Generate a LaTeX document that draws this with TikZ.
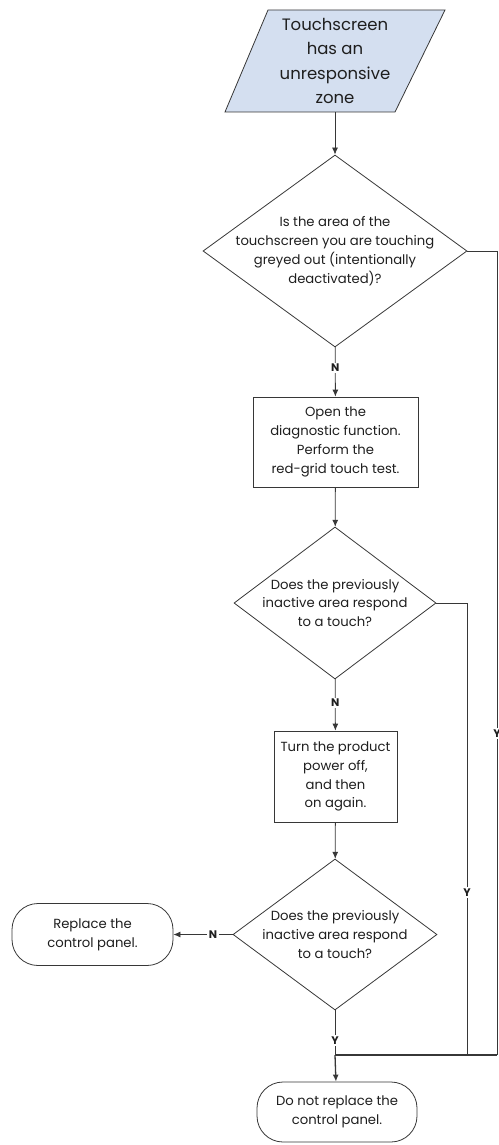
\documentclass[tikz,border=0pt]{standalone}
\usepackage{fontspec}
\setmainfont{Poppins}
\usepackage{xcolor}
\usetikzlibrary{arrows.meta,shapes.geometric,shapes.misc}
\definecolor{linec}{RGB}{55,55,55}
\definecolor{startfill}{RGB}{212,223,240}
\definecolor{txtc}{RGB}{30,30,30}
\tikzset{
 startbox/.style={rectangle,minimum width=170,minimum height=102,inner sep=0pt,align=center,
  text=txtc,font=\fontsize{16.5}{24.5}\selectfont},
 decision/.style={diamond,draw=linec,inner sep=0pt},
 qtext/.style={align=center,text=txtc,font=\fontsize{13.2}{18.8}\selectfont},
 procbox/.style={rectangle,draw=linec,inner sep=0pt,align=center,text=txtc,font=\fontsize{13.2}{18.8}\selectfont},
 endbox/.style={rectangle,rounded corners=26pt,draw=linec,inner sep=0pt,align=center,text=txtc,
  minimum width=161,minimum height=62,font=\fontsize{13.2}{18.8}\selectfont},
 yn/.style={fill=white,inner sep=1.5pt,text=txtc,font=\fontsize{11}{12}\selectfont\bfseries}
}
\begin{document}
\begin{tikzpicture}[x=1pt,y=-1pt,>={Latex[length=7pt,width=6pt]},line width=0.8pt,draw=linec]
\useasboundingbox (0,0) rectangle (498,1145);
\draw[fill=startfill](268,10)--(445,10)--(395,112)--(225,112)--cycle;
\node[startbox] (start) at (335,61) {Touchscreen\\has an\\unresponsive\\zone};
\node[decision,minimum width=264,minimum height=192,
 label={[qtext]center:Is the area of the\\touchscreen you are touching\\greyed out (intentionally\\deactivated)?}] (greyed) at (335,251) {};
\node[procbox,minimum width=165,minimum height=90] (diag) at (335.5,442) {Open the\\diagnostic function.\\Perform the\\red-grid touch test.};
\node[decision,minimum width=202,minimum height=152,
 label={[qtext]center:Does the previously\\inactive area respond\\to a touch?}] (respondA) at (335,603) {};
\node[procbox,minimum width=123,minimum height=91] (power) at (335.5,776.5) {Turn the product\\power off,\\and then\\on again.};
\node[decision,minimum width=204,minimum height=151,
 label={[qtext]center:Does the previously\\inactive area respond\\to a touch?}] (respondB) at (335,934.5) {};
\node[endbox] (replace) at (92.5,934.5) {Replace the\\control panel.};
\node[endbox,minimum width=160,minimum height=60] (keep) at (337,1112) {Do not replace the\\control panel.};
\coordinate (join) at (335,1055);
\coordinate (outer) at (497,1055);
\coordinate (inner) at (467,1055);
\draw[->](start)--(greyed);
\draw[->](greyed)--node[yn,pos=0.42]{N}(diag);
\draw[->](diag)--(respondA);
\draw[->](respondA)--node[yn,pos=0.46]{N}(power);
\draw[->](power)--(respondB);
\draw[->](respondB)--node[yn,pos=0.33]{N}(replace);
\draw(respondB)--node[yn,pos=0.67]{Y}(join);
\draw(greyed.east)-|node[yn,pos=0.8]{Y}(outer);
\draw(respondA.east)-|node[yn,pos=0.82]{Y}(inner);
\draw[line width=1.3pt](outer)--(join);
\draw[->,line width=1.3pt](join)--(keep);
\end{tikzpicture}
\end{document}
